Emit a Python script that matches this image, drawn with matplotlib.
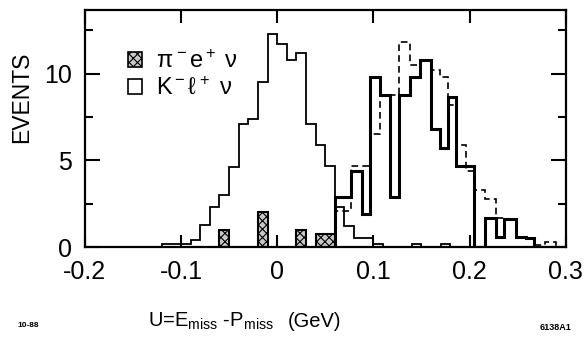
import numpy as np
import matplotlib
matplotlib.use("Agg")
import matplotlib.pyplot as plt
from matplotlib.patches import Patch

plt.rcParams['font.family'] = ['Liberation Sans', 'DejaVu Sans']
plt.rcParams['mathtext.fontset'] = 'custom'
plt.rcParams['mathtext.rm'] = 'Liberation Sans'
plt.rcParams['mathtext.it'] = 'Liberation Sans'
plt.rcParams['mathtext.bf'] = 'Liberation Sans:bold'
plt.rcParams['hatch.linewidth'] = 0.8

# K- l+ nu (thin solid, left peak), bins of 0.01 GeV
k_edges = [-0.12, -0.09, -0.08, -0.07, -0.06, -0.05, -0.04, -0.03, -0.02, -0.01,
           0.00, 0.01, 0.02, 0.03, 0.04, 0.05, 0.06, 0.07, 0.08, 0.09, 0.10,
           0.11, 0.12, 0.13, 0.14, 0.15, 0.16, 0.17, 0.18]
k_counts = [0.2, 0.4, 1.3, 2.3, 3.0, 4.6, 7.1, 7.4, 9.5, 12.3,
            11.7, 10.8, 11.2, 7.1, 5.9, 4.7, 2.3, 1.2, 0.5, 0.5,
            0.15, 0.0, 0.0, 0.0, 0.15, 0.0, 0.0, 0.15]

# right peak (thick solid) and dashed histogram
r_edges = [0.060, 0.077, 0.088, 0.096, 0.107, 0.117, 0.127, 0.138, 0.148, 0.160,
           0.169, 0.178, 0.186, 0.196, 0.205, 0.216, 0.228, 0.236, 0.248, 0.259,
           0.267, 0.278, 0.290]
thick_counts = [2.9, 4.4, 1.9, 9.8, 8.8, 2.9, 8.8, 9.8, 10.8, 6.8,
                5.7, 8.65, 4.65, 4.65, 0.0, 1.7, 0.6, 1.6, 0.6, 0.5,
                0.0, 0.0]
dashed_counts = [2.1, 4.7, 4.7, 6.5, 8.8, 8.8, 11.8, 10.5, 10.8, 10.2,
                 9.8, 8.2, 5.9, 4.4, 3.3, 2.8, 1.7, 1.6, 0.6, 0.5,
                 0.1, 0.3]

# pi- e+ nu (stippled bars)
pi_left = [-0.06, -0.02, 0.02, 0.04]
pi_width = [0.01, 0.01, 0.01, 0.02]
pi_counts = [1.0, 2.0, 1.0, 0.75]

fig = plt.figure(figsize=(5.85, 3.53), dpi=100)
ax = fig.add_axes([0.145, 0.30, 0.822, 0.673])

ax.stairs(dashed_counts, r_edges, color='black', lw=1.2, ls=(0, (4, 2.5)))
ax.stairs(k_counts, k_edges, color='black', lw=1.3)
ax.stairs(thick_counts, r_edges, color='black', lw=2.2)
ax.bar(pi_left, pi_counts, width=pi_width, align='edge', facecolor='#c8c8c8',
       edgecolor='black', hatch='xxxx', lw=1.5)

ax.set_xlim(-0.2, 0.3)
ax.set_ylim(0, 13.7)
ax.set_xticks([-0.2, -0.1, 0, 0.1, 0.2, 0.3])
ax.set_xticklabels(['-0.2', '-0.1', '0', '0.1', '0.2', '0.3'])
ax.set_yticks([0, 5, 10])
ax.set_yticks([2.5, 7.5, 12.5], minor=True)
ax.tick_params(which='both', direction='in', top=True, right=True, width=1.5,
               labelsize=18)
ax.tick_params(axis='x', which='major', length=9, pad=9)
ax.tick_params(axis='y', which='major', length=11, pad=9)
ax.tick_params(axis='y', which='minor', length=6)
for s in ax.spines.values():
    s.set_linewidth(1.6)

ax.set_ylabel('EVENTS', fontsize=16.5)
ax.yaxis.set_label_coords(-0.108, 0.63)

handles = [Patch(facecolor='#c8c8c8', edgecolor='black', hatch='xxxx', lw=1.2),
           Patch(facecolor='white', edgecolor='black', lw=1.2)]
labels = [r'$\pi^-$e$^+$ $\nu$', r'K$^-$$\ell^+$ $\nu$']
ax.legend(handles, labels, loc='upper left', bbox_to_anchor=(0.065, 0.88),
          frameon=False, fontsize=17, handlelength=0.6, handleheight=0.6,
          handletextpad=0.6, labelspacing=0.2, borderpad=0)

fig.text(0.253, 0.075, r'U=E$_{\rm miss}$ -P$_{\rm miss}$', fontsize=14.5)
fig.text(0.492, 0.075, '(GeV)', fontsize=14.5)
fig.text(0.03, 0.075, '10-88', fontsize=6, fontweight='bold')
fig.text(0.923, 0.065, '6138A1', fontsize=6.5, fontweight='bold')

fig.savefig('out.png', dpi=100)
